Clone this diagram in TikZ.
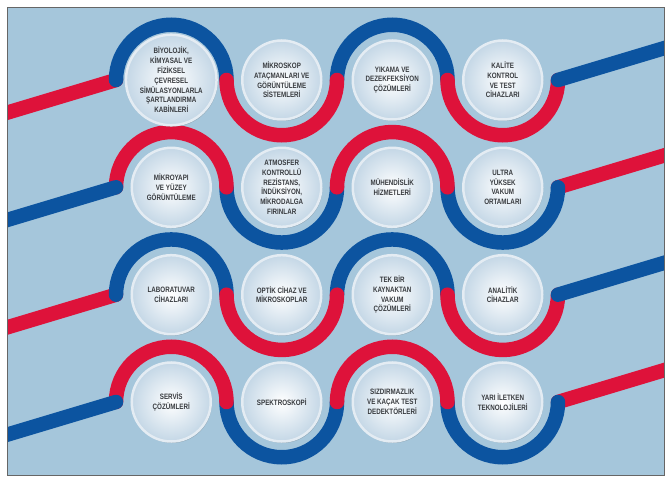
\documentclass[tikz,border=0pt]{standalone}
\usepackage{fontspec}
\newfontfamily\lblfont{Liberation Sans}[FakeStretch=0.8]
\usetikzlibrary{shadows}
\definecolor{panelbg}{RGB}{165,198,219}
\definecolor{bblue}{RGB}{12,84,160}
\definecolor{bred}{RGB}{222,18,58}
\definecolor{bubout}{RGB}{196,215,230}
\definecolor{bubrim}{RGB}{228,236,243}
\definecolor{txt}{RGB}{55,58,62}
\tikzset{
  band/.style={line width=14.5pt, line cap=round},
  bubble/.style={circle, minimum size=79pt, inner sep=0pt, align=center,
    font=\lblfont\bfseries\fontsize{7.8}{9.8}\selectfont, text=txt,
    shade, inner color=white, outer color=bubout, draw=bubrim, line width=2.5pt,
    drop shadow={shadow xshift=1pt, shadow yshift=-1.5pt, opacity=0.3, fill=black!60}}
}
\newcommand\waveodd[1]{%
  \draw[band,bred] (116,#1) -- ++(-130,-39);
  \draw[band,bblue] (116,#1) arc[start angle=180,end angle=0,radius=55.25];
  \draw[band,bblue] (337,#1) arc[start angle=180,end angle=0,radius=55.25];
  \draw[band,bred] (226.5,#1) arc[start angle=180,end angle=360,radius=55.25];
  \draw[band,bred] (447.5,#1) arc[start angle=180,end angle=360,radius=55.25];
  \draw[band,bblue] (558,#1) -- ++(130,39);
}
\newcommand\waveeven[1]{%
  \draw[band,bred] (558,#1) -- ++(130,39);
  \draw[band,bblue] (226.5,#1) arc[start angle=180,end angle=360,radius=55.25];
  \draw[band,bblue] (447.5,#1) arc[start angle=180,end angle=360,radius=55.25];
  \draw[band,bred] (116,#1) arc[start angle=180,end angle=0,radius=55.25];
  \draw[band,bred] (337,#1) arc[start angle=180,end angle=0,radius=55.25];
  \draw[band,bblue] (116,#1) -- ++(-130,-39);
}
\begin{document}
\begin{tikzpicture}[x=1pt,y=1pt]
\useasboundingbox (0,0) rectangle (670,480);
\fill[white] (0,0) rectangle (670,480);
\fill[panelbg] (7,5) rectangle (664,473);
\begin{scope}
  \clip (7,5) rectangle (664,473);
  \waveodd{400}
  \waveeven{292.7}
  \waveodd{185.3}
  \waveeven{78}
\end{scope}
\draw[gray!80!black, line width=0.7pt] (7,5) rectangle (664,473);
% row 1
\node[bubble] (b11) at (171.25,400) {BİYOLOJİK,\\KİMYASAL VE\\FİZİKSEL\\ÇEVRESEL\\SİMÜLASYONLARLA\\ŞARTLANDIRMA\\KABİNLERİ};
\node[bubble] (b12) at (281.75,400) {MİKROSKOP\\ATAÇMANLARI VE\\GÖRÜNTÜLEME\\SİSTEMLERİ};
\node[bubble] (b13) at (392.25,400) {YIKAMA VE\\DEZEKFEKSİYON\\ÇÖZÜMLERİ};
\node[bubble] (b14) at (502.75,400) {KALİTE\\KONTROL\\VE TEST\\CİHAZLARI};
% row 2
\node[bubble] (b21) at (171.25,292.7) {MİKROYAPI\\VE YÜZEY\\GÖRÜNTÜLEME};
\node[bubble] (b22) at (281.75,292.7) {ATMOSFER\\KONTROLLÜ\\REZİSTANS,\\İNDÜKSİYON,\\MİKRODALGA\\FIRINLAR};
\node[bubble] (b23) at (392.25,292.7) {MÜHENDİSLİK\\HİZMETLERİ};
\node[bubble] (b24) at (502.75,292.7) {ULTRA\\YÜKSEK\\VAKUM\\ORTAMLARI};
% row 3
\node[bubble] (b31) at (171.25,185.3) {LABORATUVAR\\CİHAZLARI};
\node[bubble] (b32) at (281.75,185.3) {OPTİK CİHAZ VE\\MİKROSKOPLAR};
\node[bubble] (b33) at (392.25,185.3) {TEK BİR\\KAYNAKTAN\\VAKUM\\ÇÖZÜMLERİ};
\node[bubble] (b34) at (502.75,185.3) {ANALİTİK\\CİHAZLAR};
% row 4
\node[bubble] (b41) at (171.25,78) {SERVİS\\ÇÖZÜMLERİ};
\node[bubble] (b42) at (281.75,78) {SPEKTROSKOPİ};
\node[bubble] (b43) at (392.25,78) {SIZDIRMAZLIK\\VE KAÇAK TEST\\DEDEKTÖRLERİ};
\node[bubble] (b44) at (502.75,78) {YARI İLETKEN\\TEKNOLOJİLERİ};
\end{tikzpicture}
\end{document}
